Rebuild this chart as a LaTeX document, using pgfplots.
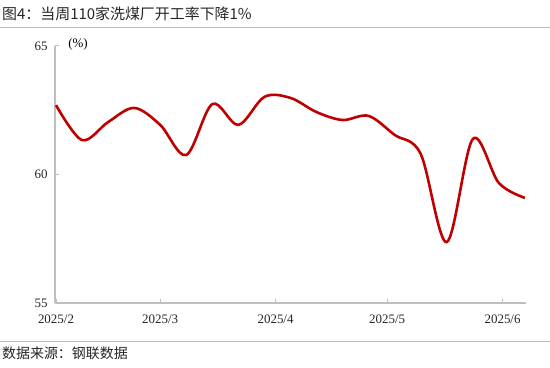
\documentclass[border=0pt]{standalone}
\usepackage{pgfplots}
\pgfplotsset{compat=1.18}
\usepackage{fontspec}
\setmainfont{Liberation Serif}
\newfontfamily\cjk{Noto Sans CJK SC}
\definecolor{lineRed}{HTML}{C00000}
\definecolor{sepBlue}{HTML}{A9C0E3}
\definecolor{axGray}{HTML}{BFBFBF}
\pgfplotstableread{
x y
0 62.70
7 61.34
14 62.04
21 62.59
28 61.93
35 60.76
42 62.74
49 61.93
56 63.02
63 62.98
70 62.43
77 62.12
84 62.28
91 61.54
98 60.80
105 57.37
112 61.38
119 59.67
126 59.09
}\datatable
\begin{document}
\begin{tikzpicture}[x=1bp,y=1bp]
\useasboundingbox (0,0) rectangle (550,367);
\draw[color=sepBlue, line width=1bp] (0,340) -- (550,340);
\draw[color=sepBlue, line width=1bp] (0,26) -- (550,26);
\node[anchor=west, inner sep=0pt, text=black!85, font=\cjk\fontsize{15}{18}\selectfont] at (2,353) {图4：当周110家洗煤厂开工率下降1\%};
\node[anchor=west, inner sep=0pt, text=black!85, font=\cjk\fontsize{14}{17}\selectfont] at (2,14) {数据来源：钢联数据};
\node[anchor=center, inner sep=0pt, font=\fontsize{13}{15}\selectfont] at (78,323) {(\%)};
\begin{axis}[
  at={(55bp,64bp)}, anchor=south west,
  scale only axis, width=471bp, height=257bp,
  xmin=-0.27, xmax=126.3, ymin=55, ymax=65,
  axis x line*=bottom, axis y line*=left,
  axis line style={axGray, line width=1.2bp},
  every tick/.style={axGray, line width=1bp},
  tick align=inside, major tick length=4bp,
  xtick={0,28,59,89,120},
  xticklabels={2025/2,2025/3,2025/4,2025/5,2025/6},
  ytick={55,60,65},
  tick label style={font=\fontsize{13}{15}\selectfont, text=black!85},
  /pgf/number format/assume math mode=true,
  yticklabel style={xshift=-4bp},
  xticklabel style={yshift=-8bp},
  clip=false,
]
\addplot[color=lineRed, line width=2.6bp, smooth, tension=0.55, mark=none] table[x=x,y=y] {\datatable};
\end{axis}
\end{tikzpicture}
\end{document}
